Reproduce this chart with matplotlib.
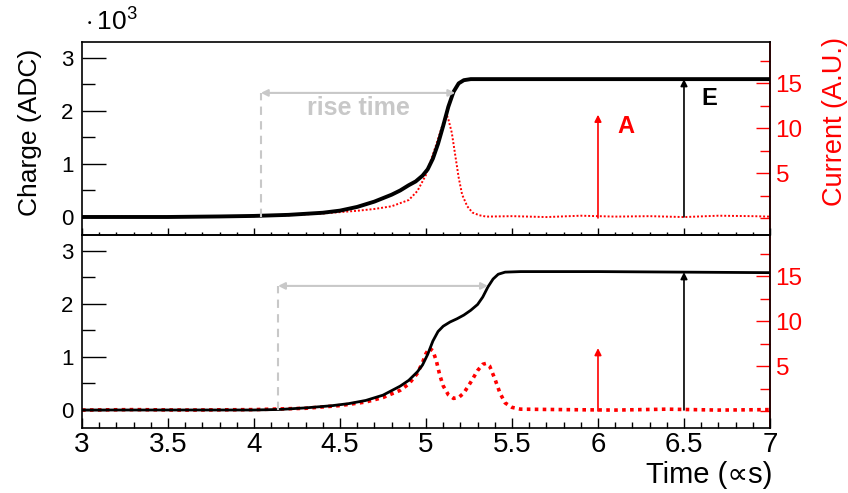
import matplotlib
matplotlib.use('Agg')
import matplotlib.pyplot as plt
from matplotlib.ticker import MultipleLocator, FormatStrFormatter

plt.rcParams['font.family'] = ['Liberation Sans', 'DejaVu Sans']
plt.rcParams['mathtext.fontset'] = 'custom'
plt.rcParams['mathtext.rm'] = 'Liberation Sans'

# Pulse 1: single fast rise (charge in 10^3 ADC, current in A.U.)
time_1 = [3.0, 3.5, 3.8, 4.0, 4.2, 4.4, 4.5, 4.6, 4.7, 4.8, 4.85, 4.9, 4.94,
          4.98, 5.01, 5.04, 5.07, 5.1, 5.13, 5.16, 5.19, 5.22, 5.26, 5.3,
          5.5, 6.0, 6.5, 7.0]
charge_1 = [0.0, 0.0, 0.01, 0.02, 0.04, 0.08, 0.12, 0.19, 0.29, 0.42, 0.5,
            0.6, 0.67, 0.78, 0.9, 1.1, 1.38, 1.72, 2.08, 2.36, 2.52, 2.58,
            2.6, 2.6, 2.6, 2.6, 2.6, 2.6]
cur_time_1 = [3.0, 3.2, 3.4, 3.6, 3.8, 4.0, 4.2, 4.4, 4.6, 4.7, 4.8, 4.9,
              4.95, 5.0, 5.03, 5.06, 5.09, 5.11, 5.12, 5.13, 5.15, 5.17,
              5.19, 5.21, 5.24, 5.27, 5.31, 5.35, 5.5, 5.7, 5.9, 6.1, 6.3,
              6.5, 6.7, 6.9, 7.0]
current_1 = [0.1, 0.15, 0.1, 0.2, 0.15, 0.2, 0.3, 0.5, 0.8, 1.0, 1.3, 2.0,
             3.0, 4.8, 6.5, 8.2, 10.0, 11.2, 11.5, 11.0, 9.5, 7.0, 4.5, 2.6,
             1.3, 0.6, 0.3, 0.15, 0.2, 0.1, 0.25, 0.15, 0.2, 0.1, 0.25, 0.2,
             0.15]

# Pulse 2: two-step rise with a double-peaked current
time_2 = [3.0, 3.5, 4.0, 4.15, 4.3, 4.45, 4.55, 4.65, 4.75, 4.85, 4.9, 4.95,
          4.98, 5.01, 5.04, 5.07, 5.1, 5.14, 5.18, 5.22, 5.26, 5.3, 5.33,
          5.36, 5.39, 5.42, 5.46, 5.55, 6.0, 6.5, 7.0]
charge_2 = [0.0, 0.0, 0.0, 0.01, 0.04, 0.08, 0.12, 0.18, 0.28, 0.45, 0.56,
            0.72, 0.85, 1.05, 1.3, 1.48, 1.58, 1.66, 1.72, 1.79, 1.88, 1.99,
            2.13, 2.32, 2.47, 2.56, 2.6, 2.61, 2.61, 2.6, 2.59]
cur_time_2 = [3.0, 3.3, 3.6, 4.0, 4.3, 4.5, 4.65, 4.75, 4.85, 4.9, 4.95,
              4.98, 5.0, 5.02, 5.04, 5.06, 5.08, 5.1, 5.13, 5.16, 5.19, 5.22,
              5.26, 5.3, 5.33, 5.35, 5.37, 5.4, 5.43, 5.46, 5.5, 5.55, 5.8,
              6.1, 6.4, 6.7, 7.0]
current_2 = [0.1, 0.15, 0.1, 0.15, 0.3, 0.6, 1.0, 1.5, 2.3, 3.0, 4.2, 5.4,
             6.4, 7.0, 6.7, 5.6, 4.0, 2.8, 1.8, 1.4, 1.5, 2.0, 3.2, 4.5, 5.2,
             5.3, 5.0, 3.6, 2.0, 0.9, 0.4, 0.2, 0.15, 0.1, 0.2, 0.1, 0.15]

# Amplitude (A), energy (E) and rise-time markers per pulse
amp_time = 6.0
energy_time = 6.5
amplitudes = [11.5, 7.0]
energies = [2.6, 2.6]
rise_start = [4.04, 4.14]
rise_stop = [5.17, 5.36]
rise_level = [2.34, 2.34]

GREY = '#c8c8c8'
XMIN, XMAX = 3, 7
CHARGE_LIM = (-0.34, 3.3)
CURRENT_LIM = (-1.9, 19.6)


def draw_panel(ax, t_q, q, t_i, i, amp, energy, r0, r1, rlev,
               red_lw, black_lw, dots, show_text):
    """
    Draw one pulse: charge on the left axis, current on a red twin axis.
    """
    ax2 = ax.twinx()
    ax.set_zorder(ax2.get_zorder() + 1)
    ax.patch.set_visible(False)

    ax2.plot(t_i, i, color='red', lw=red_lw, ls=(0, dots))
    ax.plot(t_q, q, color='black', lw=black_lw, solid_capstyle='round',
            solid_joinstyle='round')

    # rise time markers
    ax.plot([r0, r0], [0, rlev], color=GREY, lw=1.5, ls=(0, (4, 3)))
    ax.annotate('', xy=(r0, rlev), xytext=(r1, rlev),
                arrowprops=dict(arrowstyle='<|-|>', color=GREY, lw=1.5,
                                mutation_scale=10, shrinkA=0, shrinkB=0))
    # energy arrow
    ax.annotate('', xy=(energy_time, energy), xytext=(energy_time, 0),
                arrowprops=dict(arrowstyle='-|>', color='black', lw=1.2,
                                mutation_scale=10, shrinkA=0, shrinkB=0))
    # amplitude arrow
    ax2.annotate('', xy=(amp_time, amp), xytext=(amp_time, 0),
                 arrowprops=dict(arrowstyle='-|>', color='red', lw=1.2,
                                 mutation_scale=10, shrinkA=0, shrinkB=0))
    if show_text:
        ax.text((r0 + r1) / 2, 2.06, 'rise time', color=GREY,
                fontsize=18, fontweight='bold', ha='center', va='center')
        ax.text(6.6, 2.24, 'E', color='black', fontsize=17,
                fontweight='bold', ha='left', va='center')
        ax2.text(6.11, 10.2, 'A', color='red', fontsize=17,
                 fontweight='bold', ha='left', va='center')

    ax.set_xlim(XMIN, XMAX)
    ax.set_ylim(*CHARGE_LIM)
    ax2.set_ylim(*CURRENT_LIM)

    ax.xaxis.set_major_locator(MultipleLocator(0.5))
    ax.xaxis.set_minor_locator(MultipleLocator(0.1))
    ax.xaxis.set_major_formatter(FormatStrFormatter('%g'))
    ax.yaxis.set_major_locator(MultipleLocator(1))
    ax.yaxis.set_minor_locator(MultipleLocator(0.5))
    ax.tick_params(axis='y', which='major', direction='in', length=17,
                   width=1, labelsize=16, pad=6, right=False)
    ax.tick_params(axis='y', which='minor', direction='in', length=9,
                   width=1, right=False)
    ax.tick_params(axis='x', which='major', direction='in', length=7,
                   width=1, labelsize=20, pad=3, top=False)
    ax.tick_params(axis='x', which='minor', direction='in', length=4,
                   width=1, top=False)

    ax2.set_yticks([5, 10, 15])
    ax2.yaxis.set_minor_locator(MultipleLocator(2.5))
    ax2.tick_params(axis='y', which='major', direction='in', length=10,
                    width=1, colors='red', labelsize=17.5, pad=4)
    ax2.tick_params(axis='y', which='minor', direction='in', length=7,
                    width=1, colors='red')
    ax2.spines['right'].set_color('red')
    ax2.spines['right'].set_linewidth(1.2)
    for s in ['top', 'bottom', 'left']:
        ax2.spines[s].set_visible(False)
    for s in ax.spines.values():
        s.set_linewidth(1.2)
    return ax2


fig = plt.figure(figsize=(8.48, 4.93), dpi=100)
ax_top = fig.add_axes([0.0967, 0.5233, 0.8113, 0.3915])
ax_bot = fig.add_axes([0.0967, 0.1318, 0.8113, 0.3915])

draw_panel(ax_top, time_1, charge_1, cur_time_1, current_1, amplitudes[0],
           energies[0], rise_start[0], rise_stop[0], rise_level[0],
           red_lw=1.4, black_lw=2.8, dots=(1, 1), show_text=True)
draw_panel(ax_bot, time_2, charge_2, cur_time_2, current_2, amplitudes[1],
           energies[1], rise_start[1], rise_stop[1], rise_level[1],
           red_lw=2.6, black_lw=2.0, dots=(1, 1.2), show_text=False)

ax_top.tick_params(axis='x', labelbottom=False, length=5)
ax_top.tick_params(axis='x', which='minor', length=2.5)

fig.text(30 / 848, 1 - 132 / 493, 'Charge (ADC)', rotation=90, fontsize=19,
         ha='center', va='center')
fig.text(835 / 848, 1 - 122 / 493, 'Current (A.U.)', rotation=90,
         fontsize=19.5, color='red', ha='center', va='center')
fig.text(772 / 848, 1 - 475 / 493, 'Time (\u221ds)', fontsize=21,
         ha='right', va='center')
fig.text(85 / 848, 1 - 21 / 493, r'$\cdot\,10^{3}$', fontsize=19,
         ha='left', va='center')

fig.savefig('out.png', dpi=100)
